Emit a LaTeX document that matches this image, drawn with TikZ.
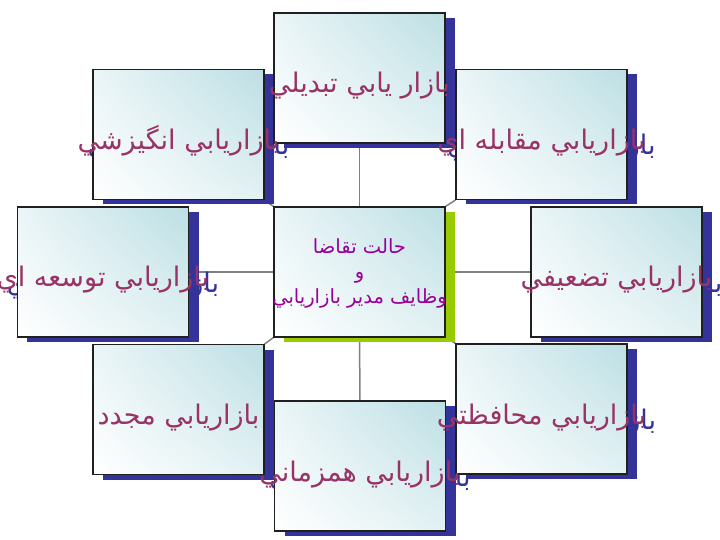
\documentclass[tikz,border=0pt]{standalone}
\usepackage{fontspec}
\usetikzlibrary{shadings}
\setmainfont{DejaVu Sans}
\newfontfamily\arabicfont[Script=Arabic]{DejaVu Sans}
\TeXXeTstate=1
\definecolor{shblue}{HTML}{333399}
\definecolor{shgreen}{HTML}{99CC00}
\definecolor{txtmaroon}{HTML}{993366}
\definecolor{txtpurple}{HTML}{990099}
\definecolor{panelteal}{HTML}{BCDFE4}
\definecolor{panelmid}{HTML}{EAF5F7}
\definecolor{panellow}{HTML}{E2F1F3}
\definecolor{panelborder}{HTML}{202020}
\definecolor{linegray}{HTML}{808080}
\pgfdeclarelayer{linklayer}
\pgfdeclarelayer{shadowlayer}
\pgfdeclarelayer{textlayer}
\pgfsetlayers{linklayer,shadowlayer,main,textlayer}
\newcommand\rtltext[1]{\beginR #1\endR}
\tikzset{
  panel/.style={minimum width=171bp, minimum height=130bp, inner sep=0pt, draw=panelborder, line width=1.1bp,
    lower left=white, upper left=panelmid, upper right=panelteal, lower right=panellow},
  panelshadow/.style={minimum width=171bp, minimum height=130bp, inner sep=0pt, fill=#1, draw=none},
  boxtext/.style={font=\arabicfont\fontsize{27bp}{32bp}\selectfont, text=#1, anchor=base, inner sep=0pt},
  centertext/.style={font=\arabicfont\fontsize{19.5bp}{23bp}\selectfont, text=#1, anchor=base, inner sep=0pt},
  link/.style={draw=linegray, line width=1.5bp},
}
\def\panellist{top/359.5/78/بازار يابي تبديلي,tl/178.5/134.5/بازاريابي انگيزشي,tr/541.5/134.5/بازاريابي مقابله اي,lt/103/272/بازاريابي توسعه اي,rt/616.5/272/بازاريابي تضعيفي,bl/178.5/409.5/بازاريابي مجدد,br/541.5/409/بازاريابي محافظتي,bot/360/466/بازاريابي همزماني}
\begin{document}
\begin{tikzpicture}[x=1bp,y=-1bp]
\useasboundingbox (0,0) rectangle (720,540);
% panels
\foreach \n/\x/\y/\t in \panellist {
  \node[panel] (\n) at (\x,\y) {};
}
\node[panel] (ctr) at (359.5,272) {};
% shadows with text shadows
\begin{pgfonlayer}{shadowlayer}
\foreach \n/\x/\y/\t in \panellist {
  \node[panelshadow=shblue] (\n-sh) at (\x+10,\y+5) {};
  \node[boxtext=shblue] (\n-tsh) at (\x+10,\y+20) {\rtltext{\t}};
}
\node[panelshadow=shgreen] (ctr-sh) at (369.5,277) {};
\node[centertext=shgreen] (ctr-tsh) at (369.5,308) {\rtltext{وظايف مدير بازاريابي}};
\end{pgfonlayer}
% connectors
\begin{pgfonlayer}{linklayer}
\draw[link] (top.south) -- (ctr.north);
\draw[link] (ctr.south) -- (bot.north);
\draw[link] (lt.east) -- (ctr.west);
\draw[link] (ctr.east) -- (rt.west);
\draw[link] (ctr.north west) -- (tl.south east);
\draw[link] (ctr.north east) -- (tr.south west);
\draw[link] (ctr.south west) -- (bl.north east);
\draw[link] (ctr.south east) -- (br.north west);
\end{pgfonlayer}
% texts
\begin{pgfonlayer}{textlayer}
\foreach \n/\x/\y/\t in \panellist {
  \node[boxtext=txtmaroon] (\n-txt) at (\x,\y+15) {\rtltext{\t}};
}
\node[centertext=txtpurple] (ctr-l1) at (359.5,254) {\rtltext{حالت تقاضا}};
\node[centertext=txtpurple] (ctr-l2) at (359.5,279) {\rtltext{و}};
\node[centertext=txtpurple] (ctr-l3) at (359.5,303) {\rtltext{وظايف مدير بازاريابي}};
\end{pgfonlayer}
\end{tikzpicture}
\end{document}
